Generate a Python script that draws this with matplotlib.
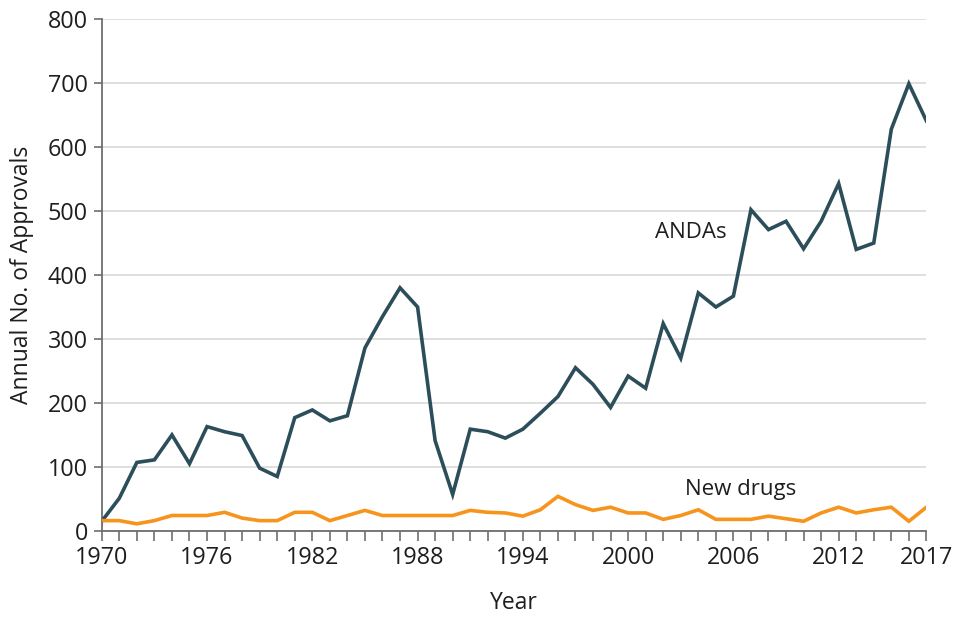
# Annual approvals: ANDAs vs new drugs
import matplotlib.pyplot as plt

plt.rcParams['font.family'] = ['Open Sans', 'DejaVu Sans']

years = list(range(1970, 2018))
andas = [15, 51, 107, 111, 150, 105, 163, 155, 149, 98,
         85, 177, 189, 172, 180, 286, 335, 380, 350, 141,
         57, 159, 155, 145, 159, 184, 210, 255, 229, 193,
         242, 223, 324, 270, 372, 350, 367, 502, 471, 484,
         441, 484, 543, 440, 450, 628, 699, 641]
new_drugs = [16, 16, 11, 16, 24, 24, 24, 29, 20, 16,
             16, 29, 29, 16, 24, 32, 24, 24, 24, 24,
             24, 32, 29, 28, 23, 33, 54, 41, 32, 37,
             28, 28, 18, 24, 33, 18, 18, 18, 23, 19,
             15, 28, 37, 28, 33, 37, 15, 37]
tick_years = [1970, 1976, 1982, 1988, 1994, 2000, 2006, 2012, 2017]
y_ticks = [0, 100, 200, 300, 400, 500, 600, 700, 800]

fig = plt.figure(figsize=(9.6, 6.18), dpi=100)
ax = fig.add_axes([0.106, 0.141, 0.859, 0.828])

ax.plot(years, andas, color='#2c4e5a', lw=2.6, solid_joinstyle='miter', zorder=3)
ax.plot(years, new_drugs, color='#f7941d', lw=2.6, solid_joinstyle='miter', zorder=3)

ax.set_xlim(1970, 2017)
ax.set_ylim(0, 800)
ax.set_xticks(years, minor=True)
ax.set_xticks(tick_years)
ax.set_yticks(y_ticks)
ax.grid(axis='y', color='#d9d9d9', lw=1.2)
ax.set_axisbelow(True)

for s in ['top', 'right']:
    ax.spines[s].set_visible(False)
for s in ['left', 'bottom']:
    ax.spines[s].set_color('#6e6e6e')
    ax.spines[s].set_linewidth(1.3)

ax.tick_params(axis='both', which='both', color='#6e6e6e', width=1.2,
               labelsize=16.8, labelcolor='#1e1e1e')
ax.tick_params(axis='x', which='both', length=7, pad=4)
ax.tick_params(axis='y', length=6, pad=4)

ax.set_xlabel('Year', fontsize=16.5, color='#1e1e1e', labelpad=15)
ax.set_ylabel('Annual No. of Approvals', fontsize=16.5, color='#1e1e1e', labelpad=10)

ax.text(2003.6, 466, 'ANDAs', fontsize=16, color='#1e1e1e', ha='center', va='center')
ax.text(2006.4, 65, 'New drugs', fontsize=16, color='#1e1e1e', ha='center', va='center')

fig.savefig('out.png', dpi=100)
